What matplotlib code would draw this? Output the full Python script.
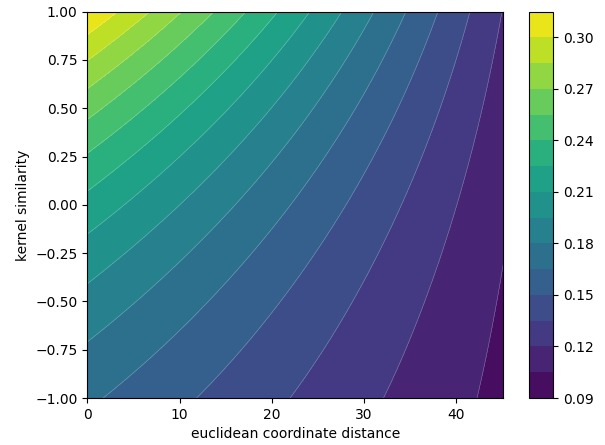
import numpy as np
import matplotlib
matplotlib.use("Agg")
import matplotlib.pyplot as plt

# Axis ranges
distance_range = [0.0, 45.1]
similarity_range = [-1.0, 1.0]

# Contour levels (colorbar bands) and ticks
levels = np.arange(0.09, 0.3151, 0.015)
cbar_ticks = [0.09, 0.12, 0.15, 0.18, 0.21, 0.24, 0.27, 0.30]
x_ticks = [0, 10, 20, 30, 40]
y_ticks = [-1.0, -0.75, -0.5, -0.25, 0.0, 0.25, 0.5, 0.75, 1.0]

# Values read along the left edge (distance = 0): similarity -> value
left_edge_sim = [1.0, 0.890, 0.740, 0.595, 0.440, 0.272, 0.093, -0.171, -0.414, -0.700, -1.0]
left_edge_val = [0.3144, 0.300, 0.285, 0.270, 0.255, 0.240, 0.225, 0.210, 0.195, 0.180, 0.1676]

# Decrease per unit distance read along the top (sim=1) and bottom (sim=-1) edges
top_edge_slope = 0.00432
bottom_edge_slope = 0.00148

# Build the surface from the edge readings
g_coef = np.polyfit(left_edge_sim, left_edge_val, 3)
g_top = np.polyval(g_coef, 1.0)
g_bot = np.polyval(g_coef, -1.0)
alpha = (top_edge_slope - bottom_edge_slope) / (g_top - g_bot)
beta = top_edge_slope - alpha * g_top

d = np.linspace(distance_range[0], distance_range[1], 400)
s = np.linspace(similarity_range[0], similarity_range[1], 400)
D, S = np.meshgrid(d, s)
G = np.polyval(g_coef, S)
Z = G - (alpha * G + beta) * D

W, H = 605, 445
fig = plt.figure(figsize=(W / 100, H / 100), dpi=100)
ax = fig.add_axes([87.3 / W, (H - 398) / H, (503.3 - 87.3) / W, (398 - 11.7) / H])
cax = fig.add_axes([528.7 / W, (H - 398) / H, (553.3 - 528.7) / W, (398 - 11.7) / H])

cf = ax.contourf(D, S, Z, levels=levels, cmap="viridis")
ax.contour(D, S, Z, levels=levels, colors="white", linewidths=0.4, alpha=0.35)
ax.set_xlim(distance_range)
ax.set_ylim(similarity_range)
ax.set_xticks(x_ticks)
ax.set_yticks(y_ticks)
ax.set_xlabel("euclidean coordinate distance")
ax.set_ylabel("kernel similarity")

cb = fig.colorbar(cf, cax=cax)
cb.set_ticks(cbar_ticks)
cb.set_ticklabels([f"{t:.2f}" for t in cbar_ticks])

fig.savefig("out.png", dpi=100)
